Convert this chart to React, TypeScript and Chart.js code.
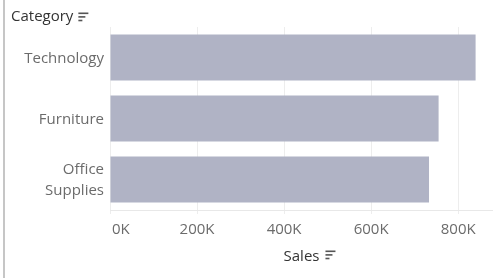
import React, { useEffect, useRef } from "react";
import { Chart, registerables } from "chart.js";

Chart.register(...registerables);

const categories = ["Technology", "Furniture", "Office Supplies"];
const categoryLines = [["Technology"], ["Furniture"], ["Office", "Supplies"]];
const sales = [840000, 755000, 733000];
const xTickValues = [0, 200000, 400000, 600000, 800000];
const xTickLabels = ["0K", "200K", "400K", "600K", "800K"];
const yTitle = "Category";
const xTitle = "Sales";

const FONT = "'Open Sans', sans-serif";

function drawSortIcon(ctx: CanvasRenderingContext2D, x: number, y: number) {
  ctx.fillStyle = "#555555";
  ctx.fillRect(x, y, 10, 1.6);
  ctx.fillRect(x, y + 3.6, 7, 1.6);
  ctx.fillRect(x, y + 7.2, 4, 1.6);
}

const decorPlugin = {
  id: "decor",
  afterDraw(chart: any) {
    const ctx: CanvasRenderingContext2D = chart.ctx;
    const area = chart.chartArea;
    const xs = chart.scales.x;
    const ys = chart.scales.y;
    ctx.save();
    // left border
    ctx.fillStyle = "#c6c6c6";
    ctx.fillRect(3, 0, 2, chart.height);
    // y title
    ctx.font = `15px ${FONT}`;
    ctx.fillStyle = "#333333";
    ctx.textAlign = "left";
    ctx.textBaseline = "alphabetic";
    ctx.fillText(yTitle, 11, 21);
    const tw = ctx.measureText(yTitle).width;
    drawSortIcon(ctx, 11 + tw + 5, 12.5);
    // y category labels
    ctx.font = `15px ${FONT}`;
    ctx.fillStyle = "#6b6b6b";
    ctx.textAlign = "right";
    ctx.textBaseline = "middle";
    categories.forEach((_, i) => {
      const py = ys.getPixelForValue(i);
      const lines = categoryLines[i];
      const lh = 21;
      const start = py - ((lines.length - 1) * lh) / 2;
      lines.forEach((ln, j) => {
        ctx.fillText(ln, area.left - 6, start + j * lh + 1);
      });
    });
    // x tick labels
    ctx.textBaseline = "alphabetic";
    xTickValues.forEach((v, i) => {
      const px = xs.getPixelForValue(v);
      ctx.textAlign = i === 0 ? "left" : "center";
      ctx.fillText(xTickLabels[i], i === 0 ? px + 2 : px, 233.5);
    });
    // x title
    ctx.font = `15px ${FONT}`;
    ctx.fillStyle = "#333333";
    ctx.textAlign = "center";
    const cx = (area.left + area.right) / 2;
    ctx.fillText(xTitle, cx, 260.5);
    const sw = ctx.measureText(xTitle).width;
    drawSortIcon(ctx, cx + sw / 2 + 6, 250.5);
    ctx.restore();
  },
};

export default function App() {
  const ref = useRef<HTMLCanvasElement>(null);
  useEffect(() => {
    if (!ref.current) return;
    const chart = new Chart(ref.current, {
      type: "bar",
      data: {
        labels: categories,
        datasets: [
          {
            label: xTitle,
            data: sales,
            backgroundColor: "#b0b3c5",
            borderWidth: 0,
            categoryPercentage: 1,
            barPercentage: 46 / 61,
          },
        ],
      },
      options: {
        indexAxis: "y",
        responsive: false,
        animation: false,
        layout: { padding: { top: 27, left: 0, right: 0, bottom: 0 } },
        plugins: {
          legend: { display: false },
          tooltip: { enabled: false },
        },
        scales: {
          x: {
            min: 0,
            max: 880000,
            afterBuildTicks: (scale: any) => {
              scale.ticks = xTickValues.map((v) => ({ value: v }));
            },
            ticks: { display: false },
            grid: {
              color: "#ededed",
              lineWidth: 1,
              tickLength: 4,
              drawTicks: true,
            },
            border: { display: true, color: "#e8e8e8" },
            afterFit: (scale: any) => {
              scale.height = 68;
            },
          },
          y: {
            grid: { display: false, drawTicks: false },
            border: { display: false },
            ticks: { display: false },
            afterFit: (scale: any) => {
              scale.width = 110;
            },
          },
        },
      } as any,
      plugins: [decorPlugin],
    });
    return () => chart.destroy();
  }, []);
  return (
    <div style={{ position: "absolute", left: 0, top: 0, width: 493, height: 278, background: "#fff" }}>
      <canvas ref={ref} width={493} height={278} style={{ display: "block" }} />
    </div>
  );
}
